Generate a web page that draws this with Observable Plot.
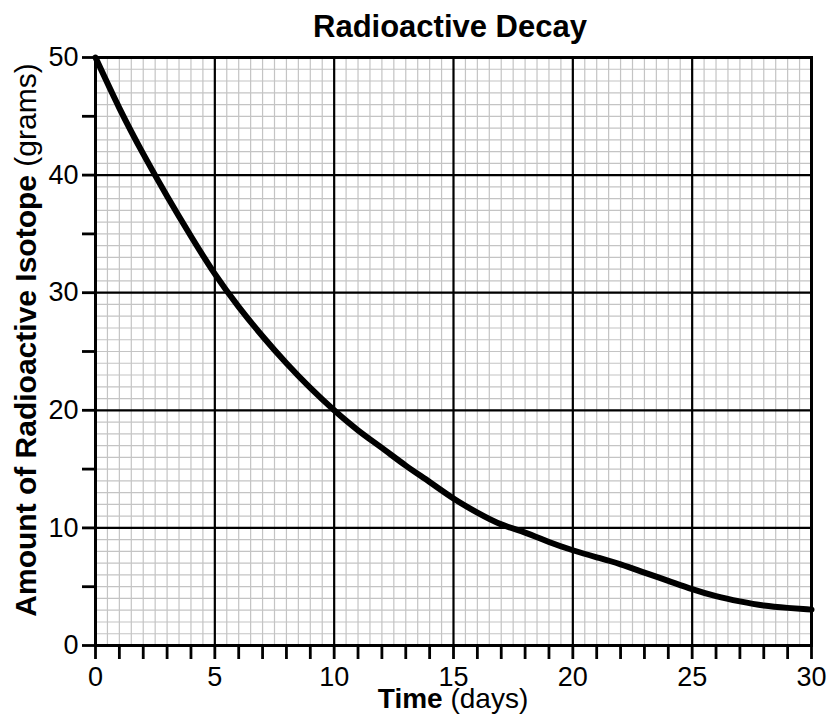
<!DOCTYPE html>
<html>
<head>
<meta charset="utf-8">
<script src="https://cdn.jsdelivr.net/npm/d3@7"></script>
<script src="https://cdn.jsdelivr.net/npm/@observablehq/plot@0.6"></script>
<style>
  html, body { margin: 0; padding: 0; background: #fff; }
  #wrap { position: relative; width: 831px; height: 721px; font-family: "Liberation Sans", Arial, Helvetica, sans-serif; }
  #chart { position: absolute; top: 0; left: 0; }
  #title { position: absolute; top: 12px; left: 0; width: 900px; text-align: center; font-weight: bold; font-size: 31px; line-height: 30px; color: #000; z-index: 2; }
  svg { overflow: visible; }
</style>
</head>
<body>
<div id="wrap">
  <div id="chart"></div>
  <div id="title">Radioactive Decay</div>
</div>
<script>
// Time (days) and amount of isotope (grams)
const days  = [0, 1, 2, 3, 4, 5, 6, 7, 8, 9, 10, 11, 12, 13, 14, 15, 16, 17, 18, 19, 20, 21, 22, 23, 24, 25, 26, 27, 28, 29, 30];
const grams = [50, 45.7, 41.8, 38.2, 34.8, 31.6, 28.8, 26.3, 24.0, 21.9, 20.0, 18.3, 16.8, 15.3, 13.9, 12.5, 11.3, 10.3, 9.6, 8.8, 8.1, 7.5, 6.9, 6.2, 5.5, 4.8, 4.2, 3.75, 3.4, 3.2, 3.05];

const xMinor = d3.range(0, 30.001, 0.5);
const yMinor = d3.range(0, 50.001, 1);
const xMajor = [0, 5, 10, 15, 20, 25, 30];
const yMajor = [0, 10, 20, 30, 40, 50];
const xTicks = d3.range(0, 31, 1);
const yTicks = d3.range(0, 51, 5);

const xTitleBold = "Time";
const xTitleRest = " (days)";
const yTitleBold = "Amount of Radioactive Isotope";
const yTitleRest = " (grams)";

const data = days.map((d, i) => ({day: d, g: grams[i]}));

const chart = Plot.plot({
  width: 831,
  height: 721,
  marginTop: 57,
  marginBottom: 76,
  marginLeft: 95,
  marginRight: 20,
  style: {fontFamily: '"Liberation Sans", Arial, Helvetica, sans-serif', fontSize: "27px", color: "#000", background: "transparent", overflow: "visible"},
  x: {domain: [0, 30]},
  y: {domain: [0, 50]},
  marks: [
    Plot.gridX(xMinor, {stroke: "#c4c4c4", strokeOpacity: 1, strokeWidth: 1.2}),
    Plot.gridY(yMinor, {stroke: "#c4c4c4", strokeOpacity: 1, strokeWidth: 1.2}),
    Plot.gridX(xMajor, {stroke: "#000", strokeOpacity: 1, strokeWidth: 2.2}),
    Plot.gridY(yMajor, {stroke: "#000", strokeOpacity: 1, strokeWidth: 2.2}),
    Plot.frame({stroke: "#000", strokeWidth: 3}),
    Plot.axisX(xTicks, {tickSize: 14, tickPadding: 7, strokeWidth: 2.8, fontSize: 27, label: null,
      tickFormat: d => d % 5 === 0 ? String(d) : ""}),
    Plot.axisY(yTicks, {tickSize: 13, tickPadding: 4, strokeWidth: 2.8, fontSize: 27, label: null,
      tickFormat: d => d % 10 === 0 ? String(d) : ""}),
    Plot.line(data, {x: "day", y: "g", curve: "natural", stroke: "#000", strokeWidth: 6, strokeLinecap: "round"})
  ]
});

const svg = d3.select(chart);
const xt = svg.append("text")
  .attr("x", 453).attr("y", 708)
  .attr("text-anchor", "middle")
  .attr("font-size", 28).attr("fill", "#000");
xt.append("tspan").attr("font-weight", "bold").text(xTitleBold);
xt.append("tspan").text(xTitleRest);

const yt = svg.append("text")
  .attr("transform", "translate(36,340) rotate(-90)")
  .attr("text-anchor", "middle")
  .attr("font-size", 30).attr("fill", "#000");
yt.append("tspan").attr("font-weight", "bold").text(yTitleBold);
yt.append("tspan").text(yTitleRest);

document.getElementById("chart").appendChild(chart);
</script>
</body>
</html>
